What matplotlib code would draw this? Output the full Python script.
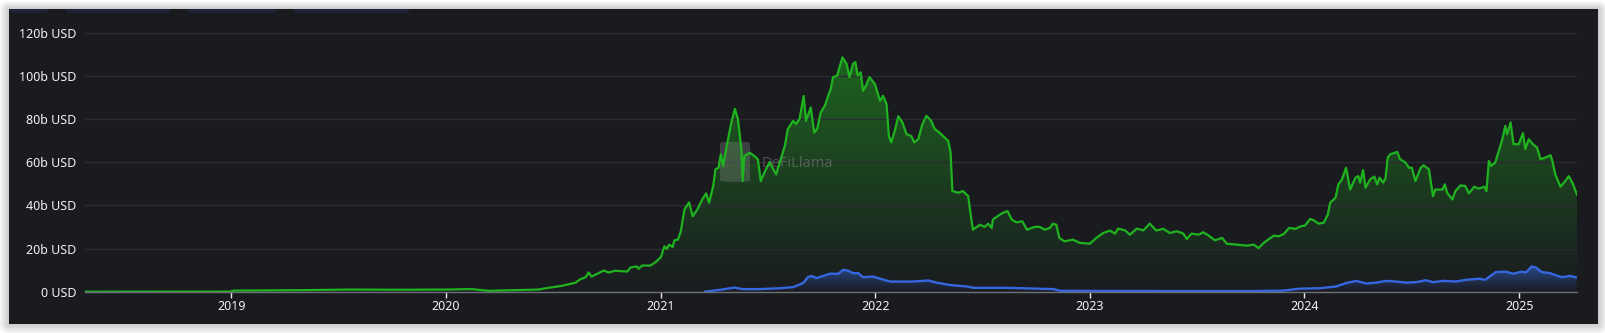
import numpy as np
import pandas as pd
import matplotlib
matplotlib.use("Agg")
import matplotlib.pyplot as plt
import matplotlib.dates as mdates
from matplotlib.patches import Rectangle, FancyBboxPatch
from matplotlib.ticker import FixedLocator, FuncFormatter

plt.rcParams["font.family"] = ["Noto Sans", "DejaVu Sans"]

# ---- data (billions of USD) ----
tvl_dates = [
    "2018-04-27", "2018-12-31", "2019-01-05", "2019-04-28", "2019-07-21", "2019-10-15",
    "2020-01-01", "2020-02-14", "2020-03-14", "2020-06-07", "2020-06-19", "2020-07-16",
    "2020-08-09", "2020-08-17", "2020-08-26", "2020-08-31", "2020-09-05", "2020-09-17",
    "2020-09-26", "2020-10-04", "2020-10-16", "2020-11-05", "2020-11-10", "2020-11-21",
    "2020-11-24", "2020-11-30", "2020-12-14", "2020-12-23", "2021-01-01", "2021-01-07",
    "2021-01-11", "2021-01-15", "2021-01-21", "2021-01-24", "2021-01-30", "2021-02-04",
    "2021-02-10", "2021-02-18", "2021-02-24", "2021-03-04", "2021-03-13", "2021-03-19",
    "2021-03-24", "2021-03-31", "2021-04-04", "2021-04-09", "2021-04-13", "2021-04-17",
    "2021-04-22", "2021-05-01", "2021-05-07", "2021-05-12", "2021-05-18", "2021-05-20",
    "2021-05-23", "2021-06-01", "2021-06-09", "2021-06-15", "2021-06-20", "2021-06-26",
    "2021-07-05", "2021-07-16", "2021-07-31", "2021-08-05", "2021-08-14", "2021-08-19",
    "2021-08-25", "2021-09-01", "2021-09-05", "2021-09-13", "2021-09-19", "2021-09-24",
    "2021-09-30", "2021-10-07", "2021-10-17", "2021-10-21", "2021-10-28", "2021-11-01",
    "2021-11-06", "2021-11-13", "2021-11-18", "2021-11-24", "2021-11-28", "2021-12-02",
    "2021-12-07", "2021-12-11", "2021-12-16", "2021-12-22", "2021-12-31", "2022-01-09",
    "2022-01-14", "2022-01-20", "2022-01-24", "2022-01-28", "2022-02-03", "2022-02-09",
    "2022-02-16", "2022-02-23", "2022-03-03", "2022-03-08", "2022-03-15", "2022-03-22",
    "2022-03-29", "2022-04-06", "2022-04-12", "2022-04-20", "2022-04-29", "2022-05-05",
    "2022-05-09", "2022-05-12", "2022-05-22", "2022-05-30", "2022-06-08", "2022-06-11",
    "2022-06-16", "2022-06-28", "2022-07-06", "2022-07-12", "2022-07-18", "2022-07-20",
    "2022-08-01", "2022-08-06", "2022-08-14", "2022-08-21", "2022-08-29", "2022-09-08",
    "2022-09-16", "2022-09-29", "2022-10-08", "2022-10-16", "2022-10-25", "2022-10-30",
    "2022-11-05", "2022-11-10", "2022-11-19", "2022-12-03", "2022-12-15", "2023-01-01",
    "2023-01-12", "2023-01-24", "2023-02-04", "2023-02-13", "2023-02-18", "2023-03-02",
    "2023-03-10", "2023-03-22", "2023-04-02", "2023-04-13", "2023-04-24", "2023-05-06",
    "2023-05-17", "2023-05-29", "2023-06-09", "2023-06-15", "2023-06-23", "2023-07-05",
    "2023-07-13", "2023-07-22", "2023-08-02", "2023-08-14", "2023-08-22", "2023-09-08",
    "2023-09-25", "2023-10-07", "2023-10-15", "2023-10-24", "2023-11-10", "2023-11-18",
    "2023-11-27", "2023-12-06", "2023-12-17", "2023-12-26", "2024-01-02", "2024-01-11",
    "2024-01-17", "2024-01-25", "2024-02-03", "2024-02-10", "2024-02-14", "2024-02-23",
    "2024-02-28", "2024-03-05", "2024-03-12", "2024-03-19", "2024-03-28", "2024-04-02",
    "2024-04-05", "2024-04-10", "2024-04-14", "2024-04-22", "2024-04-29", "2024-05-04",
    "2024-05-08", "2024-05-14", "2024-05-18", "2024-05-22", "2024-05-26", "2024-06-07",
    "2024-06-12", "2024-06-21", "2024-06-27", "2024-07-02", "2024-07-08", "2024-07-17",
    "2024-07-22", "2024-07-31", "2024-08-07", "2024-08-11", "2024-08-23", "2024-08-27",
    "2024-08-31", "2024-09-09", "2024-09-14", "2024-09-23", "2024-10-01", "2024-10-07",
    "2024-10-16", "2024-10-24", "2024-11-02", "2024-11-06", "2024-11-10", "2024-11-14",
    "2024-11-21", "2024-11-27", "2024-12-03", "2024-12-08", "2024-12-11", "2024-12-17",
    "2024-12-22", "2024-12-31", "2025-01-07", "2025-01-11", "2025-01-17", "2025-01-24",
    "2025-01-31", "2025-02-06", "2025-02-14", "2025-02-23", "2025-02-26", "2025-03-03",
    "2025-03-12", "2025-03-20", "2025-03-26", "2025-04-01", "2025-04-09",
]
tvl_values = [
    0.0, 0.05, 0.5, 0.7, 1.0, 0.9,
    1.0, 1.2, 0.4, 1.0, 1.6, 2.7,
    4.2, 5.8, 6.7, 8.9, 7.0, 8.6,
    9.8, 8.9, 9.7, 9.3, 11.2, 11.7,
    10.6, 12.1, 12.1, 13.7, 16.0, 21.0,
    19.8, 21.8, 20.7, 23.8, 24.1, 28.0,
    38.0, 41.4, 34.9, 38.0, 43.0, 45.5,
    41.2, 48.9, 56.7, 57.4, 63.6, 58.2,
    66.0, 78.4, 84.6, 80.0, 66.0, 51.2,
    62.8, 64.4, 62.8, 61.3, 51.2, 55.1,
    60.0, 54.3, 67.5, 75.3, 79.1, 77.6,
    80.0, 90.6, 79.1, 85.3, 73.7, 75.3,
    83.0, 86.1, 93.9, 99.3, 100.0, 103.9,
    108.5, 105.5, 99.3, 105.5, 106.3, 100.0,
    101.6, 93.0, 95.4, 99.3, 96.2, 88.4,
    90.7, 86.9, 72.1, 69.1, 74.5, 81.2,
    78.4, 72.9, 72.1, 69.1, 70.6, 77.6,
    81.4, 79.1, 75.3, 73.7, 71.4, 69.8,
    64.4, 46.6, 45.8, 46.6, 44.2, 38.0,
    28.7, 31.0, 30.0, 31.5, 29.5, 33.4,
    35.7, 36.5, 37.3, 33.4, 32.1, 32.6,
    28.7, 30.0, 30.0, 28.7, 29.5, 31.5,
    31.0, 24.9, 23.3, 24.1, 22.6, 22.2,
    24.9, 27.2, 28.3, 26.9, 29.2, 28.4,
    26.4, 29.2, 28.4, 31.5, 28.3, 29.1,
    27.2, 28.0, 26.9, 24.4, 26.9, 26.4,
    27.5, 26.0, 23.8, 24.9, 22.2, 21.8,
    21.3, 21.8, 20.2, 22.6, 26.0, 25.6,
    26.7, 29.5, 29.1, 30.3, 30.6, 33.7,
    33.1, 31.5, 31.9, 35.7, 41.2, 43.5,
    49.7, 52.0, 57.4, 47.3, 52.8, 53.5,
    50.5, 56.3, 48.1, 52.0, 53.3, 49.7,
    52.8, 50.5, 52.3, 62.1, 63.6, 64.7,
    61.3, 59.8, 57.4, 57.4, 51.2, 57.4,
    58.5, 56.7, 44.2, 47.3, 47.3, 49.7,
    45.8, 42.7, 46.6, 49.2, 48.9, 45.5,
    48.6, 47.7, 48.6, 46.6, 60.5, 58.2,
    59.8, 65.2, 70.6, 76.8, 72.9, 78.4,
    68.3, 68.3, 73.4, 66.0, 70.6, 68.3,
    66.7, 61.3, 62.1, 63.2, 60.5, 54.3,
    48.6, 51.2, 53.5, 50.5, 45.0,
]

sub_dates = [
    "2021-03-17", "2021-04-10", "2021-05-06", "2021-05-20", "2021-06-18", "2021-07-22",
    "2021-08-14", "2021-08-31", "2021-09-08", "2021-09-14", "2021-09-23", "2021-10-04",
    "2021-10-15", "2021-10-30", "2021-11-07", "2021-11-16", "2021-11-24", "2021-12-03",
    "2021-12-11", "2021-12-28", "2022-01-09", "2022-01-26", "2022-03-07", "2022-04-01",
    "2022-04-15", "2022-05-08", "2022-06-06", "2022-06-17", "2022-08-13", "2022-10-31",
    "2022-11-12", "2023-06-01", "2023-10-01", "2023-11-26", "2023-12-24", "2024-01-27",
    "2024-02-24", "2024-03-12", "2024-03-30", "2024-04-15", "2024-05-02", "2024-05-19",
    "2024-06-05", "2024-06-22", "2024-07-09", "2024-07-26", "2024-08-07", "2024-08-24",
    "2024-09-15", "2024-10-02", "2024-10-25", "2024-11-04", "2024-11-11", "2024-11-22",
    "2024-12-09", "2024-12-21", "2025-01-05", "2025-01-12", "2025-01-22", "2025-01-29",
    "2025-02-08", "2025-02-22", "2025-03-02", "2025-03-14", "2025-03-28", "2025-04-08",
]
sub_values = [
    0.0, 0.8, 1.9, 1.2, 1.2, 1.6,
    2.1, 4.0, 6.7, 7.3, 6.3, 7.3,
    8.3, 8.3, 10.1, 9.7, 8.6, 8.6,
    6.7, 7.0, 6.0, 4.7, 4.7, 5.2,
    4.2, 3.1, 2.4, 1.8, 1.8, 1.2,
    0.4, 0.3, 0.3, 0.5, 1.4, 1.6,
    2.4, 4.0, 5.0, 3.8, 4.2, 5.0,
    4.7, 4.2, 4.4, 5.3, 4.4, 5.0,
    4.7, 5.5, 6.0, 5.5, 7.0, 9.1,
    9.3, 8.3, 9.3, 8.9, 11.7, 11.2,
    9.1, 8.6, 7.8, 6.7, 7.3, 6.6,
]

y_ticks = [0, 20, 40, 60, 80, 100, 120]
x_years = [2019, 2020, 2021, 2022, 2023, 2024, 2025]
x_range = ("2018-04-27", "2025-04-09")

# ---- figure layout (pixel based) ----
W, H = 1606, 333
fig = plt.figure(figsize=(W / 100, H / 100), dpi=100, facecolor="#ffffff")

bg = fig.add_axes([0, 0, 1, 1], zorder=-5)
bg.set_xlim(0, W)
bg.set_ylim(H, 0)
bg.axis("off")

px0, py0, px1, py1 = 9, 9, 1598, 324
# soft drop shadow around the card
for i in range(10, 0, -1):
    bg.add_patch(FancyBboxPatch((px0 - i, py0 - i * 0.8), (px1 - px0) + 2 * i, (py1 - py0) + i * 1.8,
                                boxstyle="round,pad=0,rounding_size=%d" % i,
                                facecolor="#000000", edgecolor="none", alpha=0.018))
panel = Rectangle((px0, py0), px1 - px0, py1 - py0, facecolor="#1a1b1f", edgecolor="none")
bg.add_patch(panel)
# bottoms of the tab buttons peeking at the top edge
for tx0, tx1 in [(9, 48), (65, 171), (187, 277), (293, 410)]:
    tab = FancyBboxPatch((tx0, 0), tx1 - tx0, 12.6, boxstyle="round,pad=0,rounding_size=4",
                         facecolor="#1f2338", edgecolor="none")
    bg.add_patch(tab)
    tab.set_clip_path(panel)

ax_l, ax_r, ax_t, ax_b = 85, 1577, 32.5, 291.7
ax = fig.add_axes([ax_l / W, 1 - ax_b / H, (ax_r - ax_l) / W, (ax_b - ax_t) / H])
ax.set_facecolor("none")

tx = mdates.date2num(pd.to_datetime(tvl_dates))
ty = np.array(tvl_values)
sx = mdates.date2num(pd.to_datetime(sub_dates))
sy = np.array(sub_values)


def gradient_fill(ax, x, y, rgb, a_top, zorder):
    poly = ax.fill_between(x, y, 0, facecolor="none", edgecolor="none")
    grad = np.linspace(a_top, 0.0, 256)
    img = np.zeros((256, 1, 4))
    img[..., 0], img[..., 1], img[..., 2] = rgb
    img[:, 0, 3] = grad
    im = ax.imshow(img, aspect="auto", origin="upper",
                   extent=[x.min(), x.max(), 0, y.max()], zorder=zorder,
                   interpolation="bilinear")
    im.set_clip_path(poly.get_paths()[0], transform=ax.transData)


green = "#1fb41f"
blue = "#3567e0"
gradient_fill(ax, tx, ty, (0.13, 0.63, 0.13), 0.55, 1)
gradient_fill(ax, sx, sy, (0.20, 0.40, 0.88), 0.55, 3)

# watermark
ax.add_patch(FancyBboxPatch((0.4256, 0.4244), 0.0201, 0.154, transform=ax.transAxes,
                            boxstyle="round,pad=0,rounding_size=0.006",
                            facecolor="#9a9a9a", edgecolor="none", alpha=0.28, zorder=2))
ax.text(0.4535, 0.4954, "DeFiLlama", transform=ax.transAxes, fontsize=10.5,
        fontweight="bold", color="#a0a0a0", alpha=0.38, va="center", ha="left", zorder=2)

ax.plot(tx, ty, color=green, lw=1.6, zorder=4, solid_joinstyle="round")
ax.plot(sx, sy, color=blue, lw=1.7, zorder=5, solid_joinstyle="round")

ax.set_xlim(mdates.date2num(pd.to_datetime(x_range[0])), mdates.date2num(pd.to_datetime(x_range[1])))
ax.set_ylim(0, 120)

ax.yaxis.set_major_locator(FixedLocator(y_ticks))
ax.yaxis.set_major_formatter(FuncFormatter(lambda v, p: "0 USD" if v == 0 else f"{int(v)}b USD"))
year_pos = mdates.date2num(pd.to_datetime([f"{y}-01-01" for y in x_years]))
ax.xaxis.set_major_locator(FixedLocator(year_pos))
ax.xaxis.set_major_formatter(FuncFormatter(lambda v, p: str(mdates.num2date(v).year)))

ax.grid(axis="y", color="#2b2c31", lw=1.0, zorder=0)
ax.grid(axis="x", visible=False)
for s in ["top", "right", "left"]:
    ax.spines[s].set_visible(False)
ax.spines["bottom"].set_color("#6e7079")
ax.spines["bottom"].set_linewidth(1.0)
ax.spines["bottom"].set_zorder(6)

ax.tick_params(axis="y", length=0, pad=6, labelsize=9, labelcolor="#f2f2f2")
ax.tick_params(axis="x", length=4, width=1, color="#e8e8e8", pad=2, labelsize=9, labelcolor="#f2f2f2")

fig.savefig("out.png", dpi=100, facecolor=fig.get_facecolor())
